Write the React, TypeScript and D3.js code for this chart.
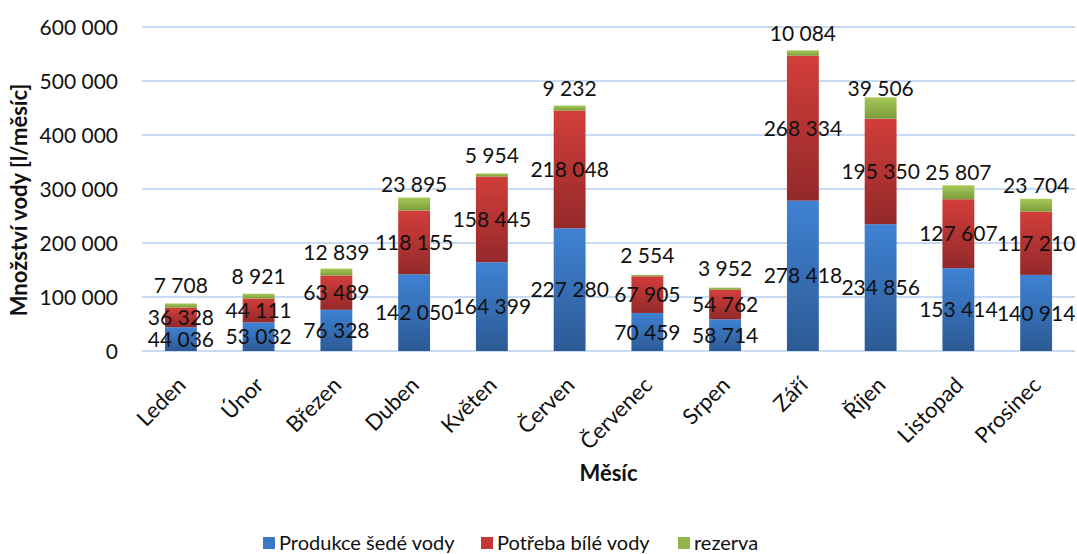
import React from "react";
import * as d3 from "d3";

const months = ["Leden", "Únor", "Březen", "Duben", "Květen", "Červen", "Červenec", "Srpen", "Září", "Říjen", "Listopad", "Prosinec"];
const grey = [44036, 53032, 76328, 142050, 164399, 227280, 70459, 58714, 278418, 234856, 153414, 140914];
const white = [36328, 44111, 63489, 118155, 158445, 218048, 67905, 54762, 268334, 195350, 127607, 117210];
const reserve = [7708, 8921, 12839, 23895, 5954, 9232, 2554, 3952, 10084, 39506, 25807, 23704];
const seriesNames = ["Produkce šedé vody", "Potřeba bílé vody", "rezerva"];
const yTicks = [0, 100000, 200000, 300000, 400000, 500000, 600000];

const W = 1077, H = 554;
const left = 142, right = 1075, top = 27, bottom = 351;
const FONT = "Lato, 'Open Sans', sans-serif";

const gradients = [
  { id: "gBlue", top: "#3f82d3", bottom: "#2c5a95", legend: "#3a78c4" },
  { id: "gRed", top: "#d23e3b", bottom: "#93292a", legend: "#c63835" },
  { id: "gGreen", top: "#a6c957", bottom: "#7d9c3c", legend: "#92b548" },
];

const fmt = d3.formatLocale({ decimal: ",", thousands: " ", grouping: [3], currency: ["", ""] }).format(",d");

export default function App() {
  const x = d3.scaleBand<string>().domain(months).range([left, right]).paddingInner(0.59).paddingOuter(0.295);
  const y = d3.scaleLinear().domain([0, 600000]).range([bottom, top]);
  const rows = months.map((m, i) => ({ m, a: grey[i], b: white[i], c: reserve[i] }));
  const stack = d3.stack<any>().keys(["a", "b", "c"])(rows);

  return (
    <svg width={W} height={H} style={{ display: "block", position: "absolute", left: 0, top: 0, background: "#fff" }} fontFamily={FONT}>
      <defs>
        {gradients.map((g) => (
          <linearGradient key={g.id} id={g.id} x1="0" y1="0" x2="0" y2="1">
            <stop offset="0" stopColor={g.top} />
            <stop offset="1" stopColor={g.bottom} />
          </linearGradient>
        ))}
      </defs>
      {yTicks.map((t) => (
        <g key={t}>
          <line x1={left} x2={right} y1={y(t)} y2={y(t)} stroke="#c9dbf2" strokeWidth={2} />
          <text x={118} y={y(t)} dy="0.36em" textAnchor="end" fontSize={21} fill="#111">{fmt(t)}</text>
        </g>
      ))}
      {stack.map((s, si) => (
        <g key={si}>
          {s.map((d, i) => (
            <rect key={i} x={x(months[i])} width={x.bandwidth()} y={y(d[1])} height={y(d[0]) - y(d[1])} fill={`url(#${gradients[si].id})`} />
          ))}
        </g>
      ))}
      {stack.map((s, si) => (
        <g key={"l" + si}>
          {s.map((d, i) => {
            const cx = (x(months[i]) as number) + x.bandwidth() / 2;
            const cy = si < 2 ? (y(d[0]) + y(d[1])) / 2 : (y(d[0]) + y(d[1])) / 2 - 20;
            return (
              <text key={i} x={cx} y={cy} dy="0.36em" textAnchor="middle" fontSize={21} fill="#111">{fmt(d[1] - d[0])}</text>
            );
          })}
        </g>
      ))}
      {months.map((m) => {
        const cx = (x(m) as number) + x.bandwidth() / 2 + 6;
        return (
          <text key={m} transform={`translate(${cx},${bottom + 14}) rotate(-45)`} textAnchor="end" dx={-15} dy="0.7em" fontSize={22} fill="#111">{m}</text>
        );
      })}
      <text x={(left + right) / 2} y={481} textAnchor="middle" fontSize={22} fontWeight="bold" fill="#111">Měsíc</text>
      <text transform={`translate(27,${200}) rotate(-90)`} textAnchor="middle" fontSize={22} fontWeight="bold" fill="#111">Množství vody [l/měsíc]</text>
      {(() => {
        const starts = [263, 481, 678];
        return seriesNames.map((n, i) => (
          <g key={n}>
            <rect x={starts[i]} y={537} width={12} height={12} fill={gradients[i].legend} />
            <text x={starts[i] + 16} y={543} dy="0.36em" fontSize={20} fill="#111">{n}</text>
          </g>
        ));
      })()}
    </svg>
  );
}
